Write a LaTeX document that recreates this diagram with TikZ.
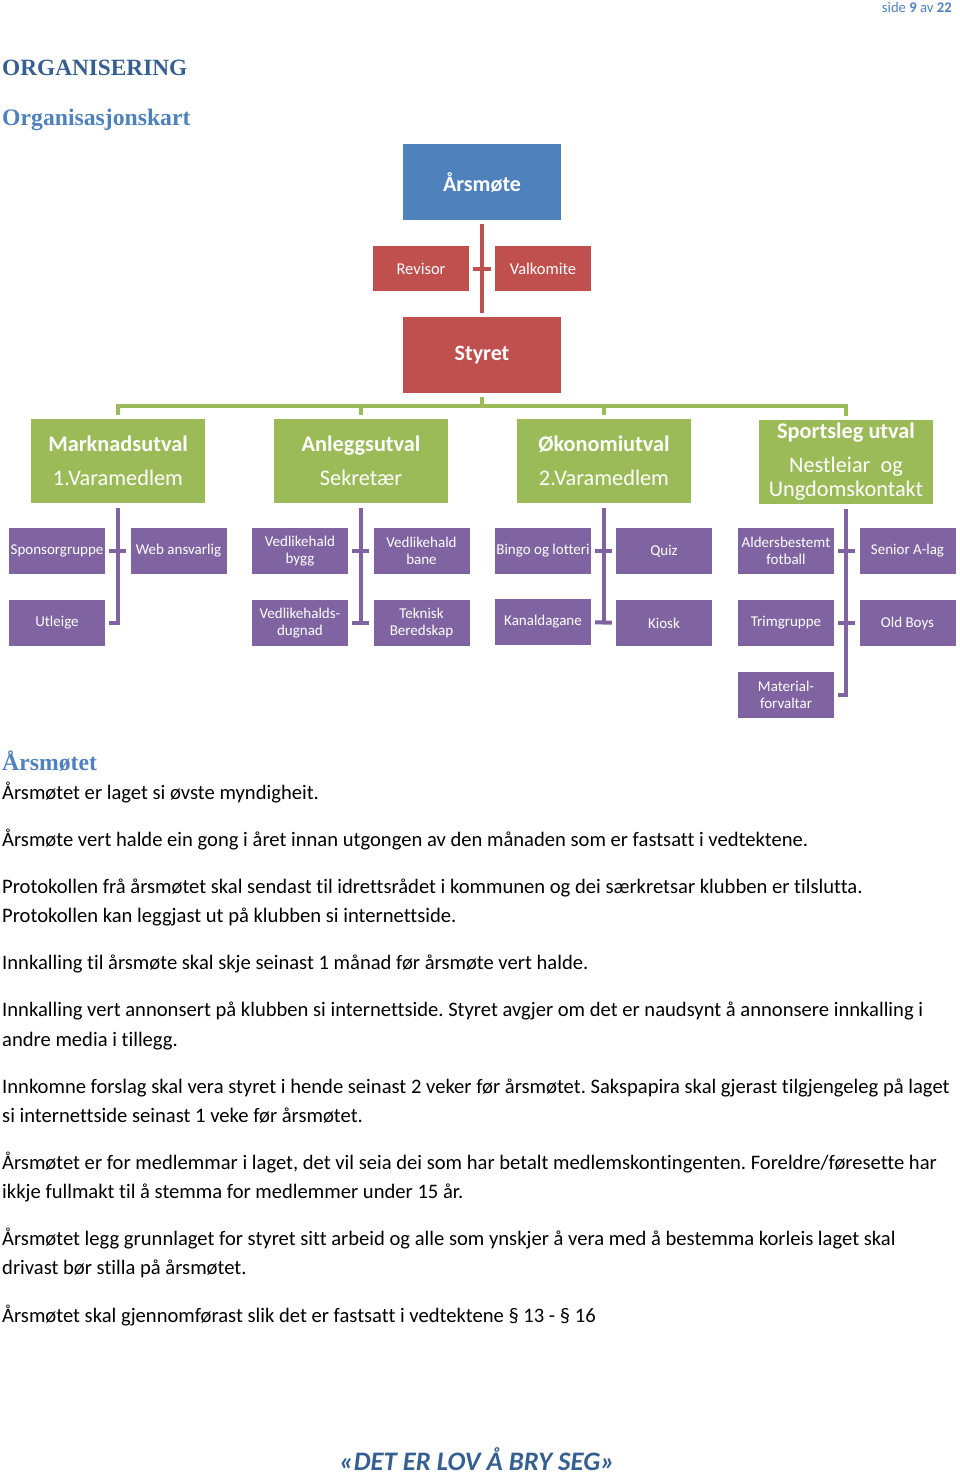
\documentclass[tikz,border=0pt]{standalone}
\usepackage{fontspec}
\setmainfont{Carlito}[Ligatures={NoCommon}]
\newfontfamily\headfont{Liberation Serif}
\definecolor{cblue}{HTML}{4F81BD}
\definecolor{cred}{HTML}{C0504D}
\definecolor{cgreen}{HTML}{9BBB59}
\definecolor{cpurple}{HTML}{8064A2}
\definecolor{hdark}{HTML}{365F91}
\definecolor{hlight}{HTML}{4F81BD}
\frenchspacing
\begin{document}
\begin{tikzpicture}[x=1pt,y=-1pt,
  bigbox/.style={rectangle, inner sep=0pt, minimum width=158pt, minimum height=76pt, text=white, align=center, font=\fontsize{22}{26}\selectfont\bfseries},
  smallred/.style={rectangle, inner sep=0pt, minimum width=96pt, minimum height=45pt, fill=cred, text=white, align=center, font=\fontsize{16.5}{19}\selectfont},
  gbox/.style={rectangle, inner sep=0pt, minimum width=174pt, minimum height=84pt, fill=cgreen, text=white, align=center, font=\fontsize{22.3}{24.5}\selectfont},
  pbox/.style={rectangle, inner sep=0pt, minimum width=96pt, minimum height=46pt, fill=cpurple, text=white, align=center, font=\fontsize{15}{17}\selectfont},
  rline/.style={draw=cred, line width=4pt},
  gline/.style={draw=cgreen, line width=4pt},
  pline/.style={draw=cpurple, line width=4pt},
  body/.style={anchor=base west, inner sep=0pt, font=\fontsize{20.6}{29}\selectfont, text=black}
]
\useasboundingbox (0,0) rectangle (960,1475);

% header
\node[anchor=base east, inner sep=0pt, text=hlight, font=\fontsize{14.7}{17}\selectfont] (side) at (952,12) {side \textbf{9} av \textbf{22}};
\node[anchor=base west, inner sep=0pt, text=hdark, font=\headfont\bfseries\fontsize{23.3}{28}\selectfont] (org) at (2,75) {ORGANISERING};
\node[anchor=base west, inner sep=0pt, text=hlight, font=\headfont\bfseries\fontsize{23.7}{28}\selectfont] (orgk) at (2,125) {Organisasjonskart};

% chart
\node[bigbox, fill=cblue] (arsmote) at (482,182) {Årsmøte};
\node[smallred] (revisor) at (421,268.5) {Revisor};
\node[smallred] (valkomite) at (543,268.5) {Valkomite};
\node[bigbox, fill=cred] (styret) at (482,355) {Styret};

\node[gbox] (mark) at (118,461) {\textbf{Marknadsutval}\\[9pt]1.Varamedlem};
\node[gbox] (anlegg) at (361,461) {\textbf{Anleggsutval}\\[9pt]Sekretær};
\node[gbox] (okon) at (604,461) {\textbf{Økonomiutval}\\[9pt]2.Varamedlem};
\node[gbox] (sport) at (846,462) {\textbf{Sportsleg utval}\\[9pt]Nestleiar\ \ og\\Ungdomskontakt};

\node[pbox] (spons) at (57,551) {Sponsorgruppe};
\node[pbox] (web) at (178.5,551) {Web ansvarlig};
\node[pbox] (bygg) at (300,551) {Vedlikehald\\bygg};
\node[pbox] (bane) at (421.5,551) {Vedlikehald\\bane};
\node[pbox] (bingo) at (543,551) {Bingo og lotteri};
\node[pbox] (quiz) at (664,551) {Quiz};
\node[pbox] (alders) at (786,551) {Aldersbestemt\\fotball};
\node[pbox] (senior) at (907.5,551) {Senior A-lag};

\node[pbox] (utleige) at (57,623) {Utleige};
\node[pbox] (dugnad) at (300,623) {Vedlikehalds-\\dugnad};
\node[pbox] (teknisk) at (421.5,623) {Teknisk\\Beredskap};
\node[pbox] (kanal) at (543,622) {Kanaldagane};
\node[pbox] (kiosk) at (664,623) {Kiosk};
\node[pbox] (trim) at (786,623) {Trimgruppe};
\node[pbox] (oldboys) at (907.5,623) {Old Boys};
\node[pbox] (material) at (786,694.5) {Material-\\forvaltar};

% red connectors
\draw[rline, shorten <=4pt, shorten >=4pt] (arsmote) -- (styret);
\draw[rline, shorten <=4pt, shorten >=4pt] (revisor) -- (valkomite);

% green bus
\draw[gline, shorten <=4pt, shorten >=4pt] (styret.south) -- ++(0,13) -| (mark.north);
\draw[gline, shorten <=4pt, shorten >=4pt] (styret.south) -- ++(0,13) -| (anlegg.north);
\draw[gline, shorten <=4pt, shorten >=4pt] (styret.south) -- ++(0,13) -| (okon.north);
\draw[gline, shorten <=4pt, shorten >=4pt] (styret.south) -- ++(0,13) -| (sport.north);

% purple connectors
\draw[pline, shorten <=5pt, shorten >=4pt] (mark.south) |- (utleige.east);
\draw[pline, shorten <=4pt, shorten >=4pt] (spons) -- (web);

\draw[pline, shorten <=5pt] (anlegg.south) -- (anlegg.south |- dugnad.east);
\draw[pline, shorten <=4pt, shorten >=4pt] (bygg) -- (bane);
\draw[pline, shorten <=4pt, shorten >=4pt] (dugnad) -- (teknisk);

\draw[pline, shorten <=5pt] (okon.south) -- (okon.south |- kanal.east);
\draw[pline, shorten <=4pt, shorten >=4pt] (bingo) -- (quiz);
\draw[pline, shorten <=4pt, shorten >=4pt] (kanal) -- (kiosk);

\draw[pline, shorten <=5pt, shorten >=4pt] (sport.south) |- (material.east);
\draw[pline, shorten <=4pt, shorten >=4pt] (alders) -- (senior);
\draw[pline, shorten <=4pt, shorten >=4pt] (trim) -- (oldboys);

% text
\node[anchor=base west, inner sep=0pt, text=hlight, font=\headfont\bfseries\fontsize{23.7}{28}\selectfont] (h2) at (2,770) {Årsmøtet};
\node[body] (t1) at (2,799) {Årsmøtet er laget si øvste myndigheit.};
\node[body] (t2) at (2,846) {Årsmøte vert halde ein gong i året innan utgongen av den månaden som er fastsatt i vedtektene.};
\node[body] (t3) at (2,893) {Protokollen frå årsmøtet skal sendast til idrettsrådet i kommunen og dei særkretsar klubben er tilslutta.};
\node[body] (t4) at (2,922) {Protokollen kan leggjast ut på klubben si internettside.};
\node[body] (t5) at (2,969) {Innkalling til årsmøte skal skje seinast 1 månad før årsmøte vert halde.};
\node[body] (t6) at (2,1016) {Innkalling vert annonsert på klubben si internettside. Styret avgjer om det er naudsynt å annonsere innkalling i};
\node[body] (t7) at (2,1046) {andre media i tillegg.};
\node[body] (t8) at (2,1093) {Innkomne forslag skal vera styret i hende seinast 2 veker før årsmøtet. Sakspapira skal gjerast tilgjengeleg på laget};
\node[body] (t9) at (2,1122) {si internettside seinast 1 veke før årsmøtet.};
\node[body] (t10) at (2,1169) {Årsmøtet er for medlemmar i laget, det vil seia dei som har betalt medlemskontingenten. Foreldre/føresette har};
\node[body] (t11) at (2,1198) {ikkje fullmakt til å stemma for medlemmer under 15 år.};
\node[body] (t12) at (2,1245) {Årsmøtet legg grunnlaget for styret sitt arbeid og alle som ynskjer å vera med å bestemma korleis laget skal};
\node[body] (t13) at (2,1274) {drivast bør stilla på årsmøtet.};
\node[body] (t14) at (2,1322) {Årsmøtet skal gjennomførast slik det er fastsatt i vedtektene § 13 - § 16};

% footer
\node[anchor=base, inner sep=0pt, text=hdark, font=\fontsize{26.7}{30}\selectfont\bfseries\itshape] (foot) at (477,1470) {«DET ER LOV Å BRY SEG»};
\end{tikzpicture}
\end{document}
